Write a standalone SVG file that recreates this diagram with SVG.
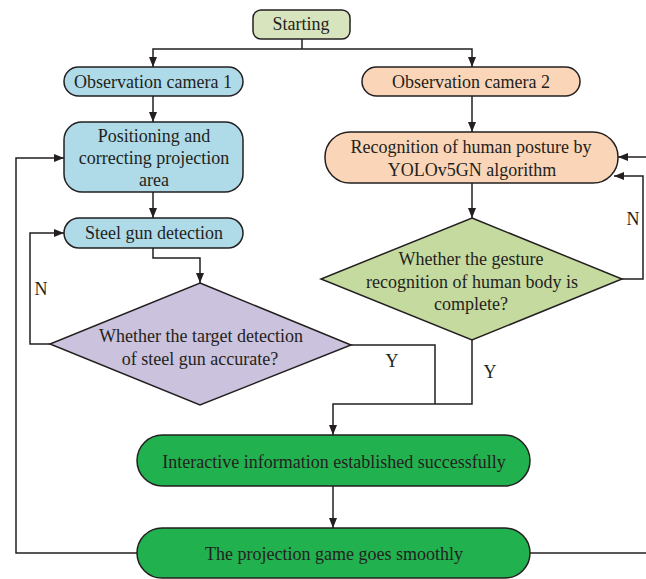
<svg xmlns="http://www.w3.org/2000/svg" width="646" height="579" viewBox="0 0 646 579">
<defs>
<marker id="ah" markerWidth="10" markerHeight="8" refX="10" refY="4" orient="auto" markerUnits="userSpaceOnUse"><path d="M0,0 L10,4 L0,8 z" fill="#231f20"/></marker>
</defs>
<style>
.n{stroke:#231f20;stroke-width:1.5}
.c{fill:none;stroke:#231f20;stroke-width:1.5}
.a{marker-end:url(#ah)}
text{font-family:"Liberation Serif","Times New Roman",serif;font-size:18px;fill:#231f20;text-anchor:middle}
</style>
<rect width="646" height="579" fill="#ffffff"/>
<g id="connectors">
<path class="c" d="M302,39 V49"/>
<path class="c a" d="M302,49 H153 V67"/>
<path class="c a" d="M302,49 H472 V67"/>
<path class="c a" d="M153,96 V122"/>
<path class="c a" d="M153,192 V218"/>
<path class="c a" d="M153,248 V258 H200 V283"/>
<path class="c a" d="M50,344 H30 V233 H64"/>
<path class="c a" d="M472,96 V132"/>
<path class="c a" d="M472,183 V218"/>
<path class="c a" d="M622,279 H643 V176 H614"/>
<path class="c a" d="M646,157 H618"/>
<path class="c" d="M351,345 H435 V404"/>
<path class="c a" d="M472,340 V404 H333 V435"/>
<path class="c a" d="M333,486 V528"/>
<path class="c a" d="M137,553 H16 V158 H64"/>
<path class="c" d="M530,553 H646"/>
<text x="392" y="367">Y</text>
<text x="490" y="378">Y</text>
<text x="633" y="225">N</text>
<text x="41" y="295">N</text>
</g>
<g id="starting">
<rect class="n" x="253" y="10" width="97" height="29" rx="8" fill="#d8e4bd"/>
<text x="301" y="30">Starting</text>
</g>
<g id="cam1">
<rect class="n" x="64" y="67" width="179" height="29" rx="14.5" fill="#afdbe8"/>
<text x="153" y="88">Observation camera 1</text>
</g>
<g id="cam2">
<rect class="n" x="362" y="67" width="218" height="29" rx="14.5" fill="#fbd5b8"/>
<text x="471" y="88">Observation camera 2</text>
</g>
<g id="positioning">
<rect class="n" x="64" y="122" width="179" height="70" rx="18" fill="#afdbe8"/>
<text x="154" y="141.5">Positioning and</text>
<text x="154" y="163.5">correcting projection</text>
<text x="154" y="185.5">area</text>
</g>
<g id="recognition">
<rect class="n" x="325" y="132" width="293" height="51" rx="25" fill="#fbd5b8"/>
<text x="471" y="153">Recognition of human posture by</text>
<text x="472" y="176">YOLOv5GN algorithm</text>
</g>
<g id="steelgun">
<rect class="n" x="64" y="218" width="179" height="30" rx="15" fill="#afdbe8"/>
<text x="154" y="239">Steel gun detection</text>
</g>
<g id="decision1">
<polygon class="n" points="200,283 351,345 200,405 50,344" fill="#cbc2dd"/>
<text x="201" y="342">Whether the target detection</text>
<text x="200" y="365">of steel gun accurate?</text>
</g>
<g id="decision2">
<polygon class="n" points="472,218 622,279 472,340 321,279" fill="#c5da9f"/>
<text x="471" y="265">Whether the gesture</text>
<text x="472" y="287.5">recognition of human body is</text>
<text x="471" y="310">complete?</text>
</g>
<g id="interactive">
<rect class="n" x="137" y="435" width="393" height="51" rx="25.5" fill="#22b14f"/>
<text x="334" y="468">Interactive information established successfully</text>
</g>
<g id="game">
<rect class="n" x="137" y="528" width="393" height="50" rx="25" fill="#22b14f"/>
<text x="334" y="560">The projection game goes smoothly</text>
</g>
</svg>
